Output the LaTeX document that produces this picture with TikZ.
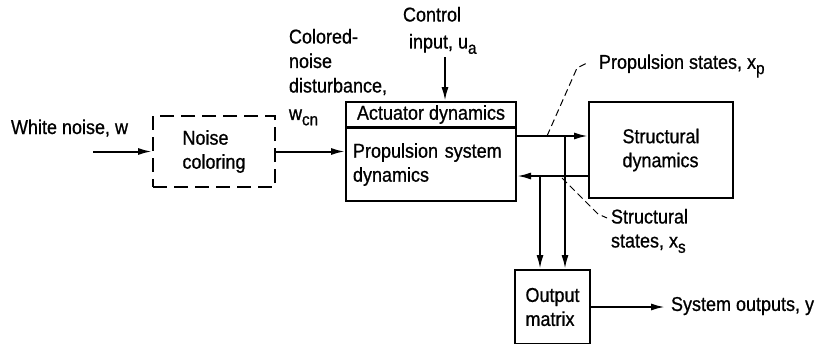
\documentclass[tikz,border=0pt]{standalone}
\usepackage{fontspec}
\setmainfont{Liberation Sans}[FakeStretch=0.9, FakeBold=0.8]
\usetikzlibrary{arrows.meta, positioning}
\newcommand{\lowsub}[1]{\raisebox{-0.5ex}{\fontsize{17}{17}\selectfont #1}}

\begin{document}
\begin{tikzpicture}[x=1pt, y=-1pt, line width=2pt,
  every node/.style={font=\fontsize{20}{24}\selectfont},
  blk/.style={draw, line width=2pt, inner sep=0pt},
  arr/.style={-{Latex[length=14pt, width=7pt]}, line width=2pt},
  lead/.style={line width=1pt, dash pattern=on 7pt off 4pt},
  lbl/.style={inner sep=0pt, align=left}]
  \useasboundingbox (0,0) rectangle (829,343);
  % Noise coloring
  \node[blk, dash pattern=on 14pt off 7pt, minimum width=122pt, minimum height=71pt, align=left] (noise) at (214,151.5) {Noise\\coloring};
  \node[lbl, anchor=base west] (wlbl) at (10,134) {White noise, w};
  \coordinate (win) at (93,151.5);
  \draw[arr] (win) -- (noise.west);
  % Actuator and propulsion system
  \node[blk, minimum width=170pt, minimum height=25pt] (act) at (431,114.5) {Actuator dynamics};
  \node[blk, minimum width=170pt, minimum height=73pt, below=-1pt of act, text width=156pt, align=left] (prop) {Propulsion system\\dynamics};
  \node[lbl, anchor=north west, font=\fontsize{20}{24.5}\selectfont] (wcn) at (288,28) {Colored-\\noise\\disturbance,\\[3pt]w\lowsub{cn}};
  \draw[arr] (noise.east) -- (prop.west |- noise.east);
  \node[lbl, anchor=north west] (ulbl) at (402,6) {Control\\[3pt]\hspace{6pt}input, u\lowsub{a}};
  \coordinate (uin) at (445,57);
  \draw[arr] (uin) -- (uin |- act.north);
  % Structural dynamics
  \node[blk, minimum width=144pt, minimum height=96pt, align=left] (struc) at (661,150) {Structural\\dynamics};
  \coordinate (xpt) at (565,136);
  \coordinate (xst) at (540,176);
  \draw[arr] (prop.east |- xpt) -- (struc.west |- xpt);
  \draw[arr] (struc.west |- xst) -- (prop.east |- xst);
  % Output matrix
  \node[blk, minimum width=75pt, minimum height=74pt, align=left] (outm) at (552.5,307) {Output\\matrix};
  \draw[arr] (xpt) -- (xpt |- outm.north);
  \draw[arr] (xst) -- (xst |- outm.north);
  \coordinate (yout) at (665,307);
  \draw[arr] (outm.east) -- (yout);
  \node[lbl, anchor=west] (ylbl) at (670,306) {System outputs, y};
  % State labels
  \node[lbl, anchor=west] (xplbl) at (598,66) {Propulsion states, x\lowsub{p}};
  \coordinate (xpp) at (547,136);
  \draw[lead] (xpp) -- ++(30,-68) -- ++(10,-5);
  \node[lbl, anchor=north west] (xslbl) at (610,208) {Structural\\states, x\lowsub{s}};
  \coordinate (xsp) at (562,178);
  \draw[lead] (xsp) -- ++(36,36) -- ++(9,4);
\end{tikzpicture}
\end{document}
